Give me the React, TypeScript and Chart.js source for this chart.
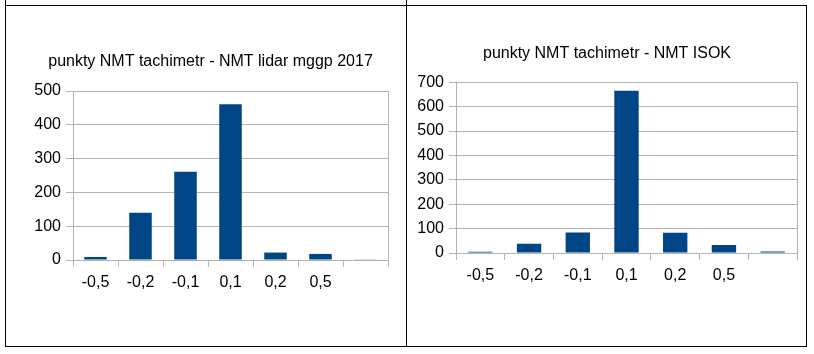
import React, { useEffect, useRef } from 'react';
import { Chart, registerables } from 'chart.js';

Chart.register(...registerables);

const categories = ['-0,5', '-0,2', '-0,1', '0,1', '0,2', '0,5', ''];
const lidarValues = [9, 140, 261, 461, 22, 18, 1];
const isokValues = [5, 38, 84, 665, 83, 33, 6];
const lidarMax = 500;
const isokMax = 700;
const tickStep = 100;
const lidarTitle = 'punkty NMT tachimetr - NMT lidar mggp 2017';
const isokTitle = 'punkty NMT tachimetr - NMT ISOK';

const BAR = '#004586';
const GRID = '#b3b3b3';
const FONT = '"Liberation Sans", Arial, sans-serif';

type Props = {
  title: string;
  values: number[];
  max: number;
  left: number;
  top: number;
  width: number;
  height: number;
  padL: number;
  padR: number;
  yWidth: number;
  xHeight: number;
  titleTop: number;
  titleBottom: number;
};

function BarChart(p: Props) {
  const ref = useRef<HTMLCanvasElement | null>(null);
  useEffect(() => {
    if (!ref.current) return;
    const chart = new Chart(ref.current, {
      type: 'bar',
      data: {
        labels: categories,
        datasets: [
          {
            data: p.values,
            backgroundColor: BAR,
            borderWidth: 0,
            barPercentage: 0.5,
            categoryPercentage: 1,
          },
        ],
      },
      options: {
        animation: false,
        responsive: false,
        devicePixelRatio: 1,
        layout: { padding: { left: p.padL, right: p.padR, top: 0, bottom: 0 } },
        plugins: {
          legend: { display: false },
          tooltip: { enabled: false },
          title: {
            display: true,
            text: p.title,
            color: '#000',
            font: { family: FONT, size: 16, weight: 'normal' },
            padding: { top: p.titleTop, bottom: p.titleBottom },
          },
        },
        scales: {
          x: {
            offset: true,
            grid: {
              display: true,
              offset: true,
              drawOnChartArea: false,
              drawTicks: true,
              tickLength: 7,
              color: GRID,
            },
            border: { display: true, color: GRID },
            ticks: {
              color: '#000',
              font: { family: FONT, size: 16 },
              padding: 6,
              maxRotation: 0,
              autoSkip: false,
            },
            afterFit: (s: any) => {
              s.height = p.xHeight;
            },
          },
          y: {
            min: 0,
            max: p.max,
            ticks: {
              stepSize: tickStep,
              color: '#000',
              font: { family: FONT, size: 16 },
              padding: 5,
            },
            grid: { color: GRID, tickLength: 7, drawTicks: true },
            border: { display: true, color: GRID },
            afterFit: (s: any) => {
              s.width = p.yWidth;
            },
          },
          y2: {
            position: 'right',
            min: 0,
            max: 1,
            ticks: { display: false },
            grid: { display: false, drawTicks: false },
            border: { display: true, color: GRID },
            afterFit: (s: any) => {
              s.width = 0;
            },
          },
        },
      },
    } as any);
    return () => chart.destroy();
  }, []);
  return (
    <canvas
      ref={ref}
      width={p.width}
      height={p.height}
      style={{
        position: 'absolute',
        left: p.left,
        top: p.top,
        width: p.width,
        height: p.height,
      }}
    />
  );
}

const line = (left: number, top: number, width: number, height: number) => (
  <div style={{ position: 'absolute', left, top, width, height, background: '#000' }} />
);

export default function App() {
  return (
    <div style={{ position: 'absolute', left: 0, top: 0, width: 814, height: 354, background: '#fff' }}>
      <BarChart
        title={lidarTitle}
        values={lidarValues}
        max={lidarMax}
        left={6}
        top={6}
        width={400}
        height={340}
        padL={27}
        padR={18}
        yWidth={40}
        xHeight={86}
        titleTop={46}
        titleBottom={19.8}
      />
      <BarChart
        title={isokTitle}
        values={isokValues}
        max={isokMax}
        left={407}
        top={6}
        width={399}
        height={340}
        padL={10}
        padR={9}
        yWidth={39}
        xHeight={93}
        titleTop={38.4}
        titleBottom={18.7}
      />
      {line(5, 0, 1, 347)}
      {line(406, 0, 1, 347)}
      {line(806, 5, 1, 342)}
      {line(5, 5, 802, 1)}
      {line(5, 346, 802, 1)}
    </div>
  );
}
